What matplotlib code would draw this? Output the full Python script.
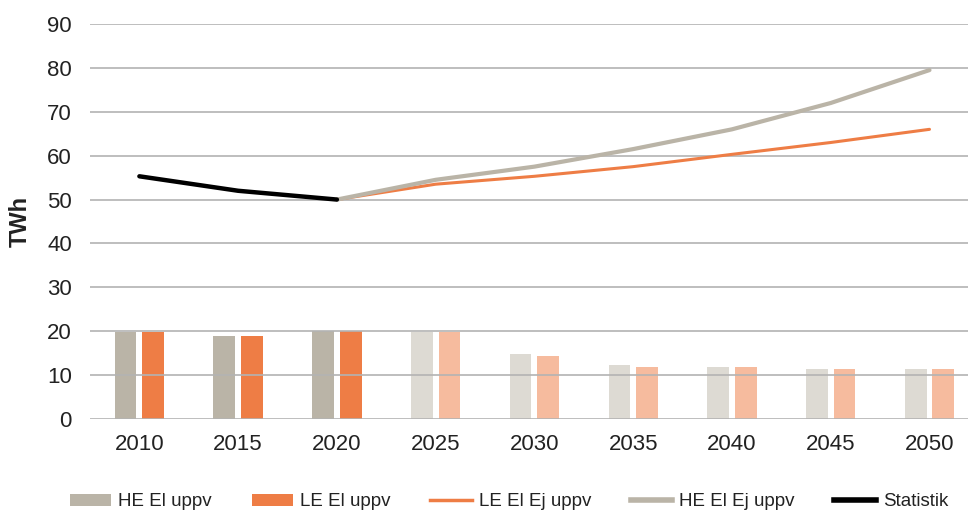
import matplotlib
matplotlib.use("Agg")
import matplotlib.pyplot as plt
import numpy as np
from matplotlib.patches import Patch
from matplotlib.lines import Line2D

plt.rcParams['font.family'] = ['Liberation Sans', 'DejaVu Sans']

years = ["2010", "2015", "2020", "2025", "2030", "2035", "2040", "2045", "2050"]
he_el_uppv = [19.8, 18.8, 20.1, 19.8, 14.7, 12.4, 11.9, 11.4, 11.4]
le_el_uppv = [19.8, 18.8, 20.1, 19.8, 14.3, 11.9, 11.9, 11.4, 11.4]
statistik_years = ["2010", "2015", "2020"]
statistik = [55.3, 52.0, 50.0]
proj_years = ["2020", "2025", "2030", "2035", "2040", "2045", "2050"]
le_el_ej_uppv = [50.0, 53.5, 55.3, 57.5, 60.3, 63.0, 66.0]
he_el_ej_uppv = [50.0, 54.5, 57.5, 61.5, 66.0, 72.0, 79.5]
n_hist = 3  # historical bars drawn in full colour
yticks = [0, 10, 20, 30, 40, 50, 60, 70, 80, 90]

C_HE = '#bab4a7'
C_LE = '#ee7d45'
C_HE_L = '#dddad3'
C_LE_L = '#f6bb9e'
TXT = '#222222'

fig = plt.figure(figsize=(9.68, 5.12), dpi=100)
ax = fig.add_axes([90/968, 93/512, 1 - 90/968, (419-24)/512])

x = np.arange(len(years))
idx = {y: i for i, y in enumerate(years)}
w = 0.22
he_cols = [C_HE if i < n_hist else C_HE_L for i in range(len(years))]
le_cols = [C_LE if i < n_hist else C_LE_L for i in range(len(years))]
ax.bar(x - 0.14, he_el_uppv, width=w, color=he_cols, zorder=2)
ax.bar(x + 0.14, le_el_uppv, width=w, color=le_cols, zorder=2)

for yv in yticks:
    ax.axhline(yv, color='#b3b3b3', lw=1.2, zorder=2.5)

ax.plot([idx[y] for y in proj_years], le_el_ej_uppv, color=C_LE, lw=2.2, zorder=3, solid_capstyle='round')
ax.plot([idx[y] for y in proj_years], he_el_ej_uppv, color=C_HE, lw=3, zorder=3, solid_capstyle='round')
ax.plot([idx[y] for y in statistik_years], statistik, color='black', lw=3.2, zorder=4, solid_capstyle='round')

ax.set_xlim(-0.5, 8.39)
ax.set_ylim(0, 90)
ax.set_yticks(yticks)
ax.set_xticks(x)
ax.set_xticklabels(years)
ax.tick_params(axis='both', length=0, labelsize=16, colors=TXT)
ax.tick_params(axis='y', pad=13)
ax.tick_params(axis='x', pad=11)
for s in ax.spines.values():
    s.set_visible(False)
ax.set_ylabel('TWh', fontsize=17, fontweight='bold', color=TXT)
ax.yaxis.set_label_coords(-58/878, 0.5)

handles = [
    Patch(facecolor=C_HE, edgecolor='none'),
    Patch(facecolor=C_LE, edgecolor='none'),
    Line2D([0], [0], color=C_LE, lw=2.5),
    Line2D([0], [0], color=C_HE, lw=4),
    Line2D([0], [0], color='black', lw=4),
]
labels = ['HE El uppv', 'LE El uppv', 'LE El Ej uppv', 'HE El Ej uppv', 'Statistik']
leg = fig.legend(handles, labels, loc='center', bbox_to_anchor=(509/968, 10/512), ncol=5,
                 frameon=False, fontsize=13.5, handlelength=2.2, handleheight=0.65,
                 handletextpad=0.37, columnspacing=2.13, labelcolor=TXT,
                 borderpad=0, borderaxespad=0)

fig.savefig('out.png', dpi=100)
